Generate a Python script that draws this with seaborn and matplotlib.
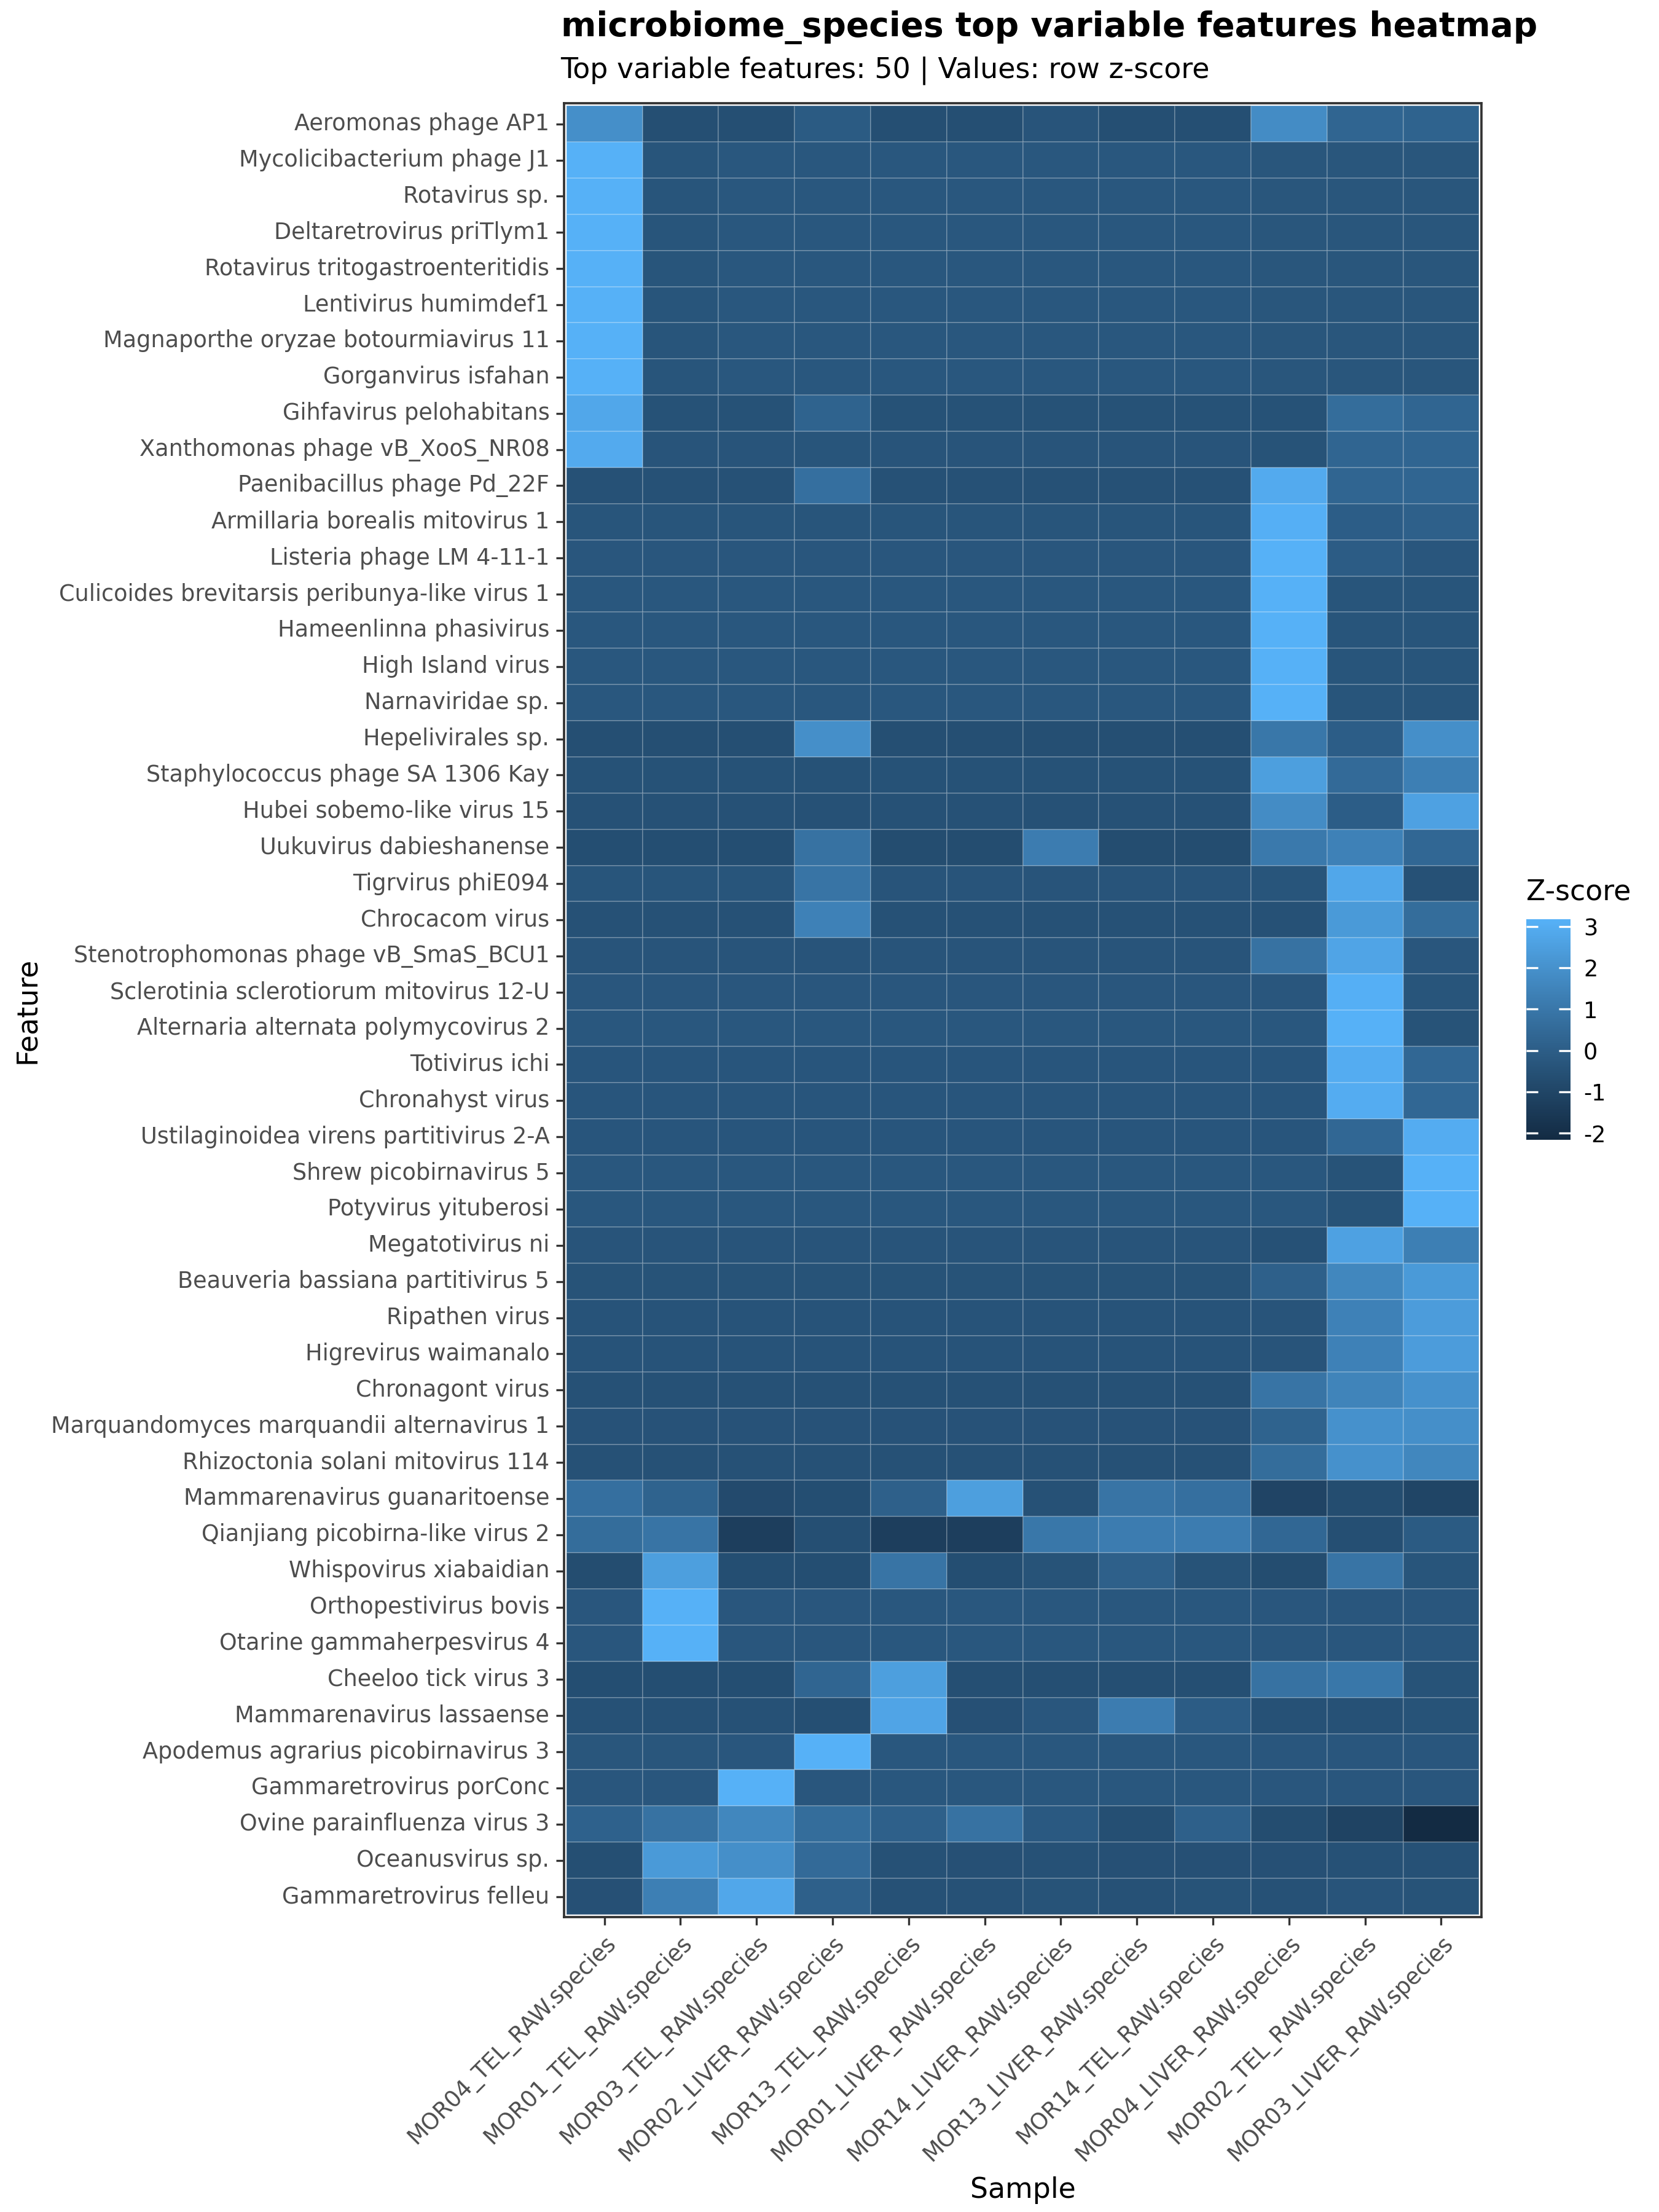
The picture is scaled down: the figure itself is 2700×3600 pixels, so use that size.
import numpy as np
import pandas as pd
import matplotlib
matplotlib.use("Agg")
import matplotlib.pyplot as plt
import seaborn as sns
from matplotlib.colors import ListedColormap

features = [
    "Aeromonas phage AP1", "Mycolicibacterium phage J1", "Rotavirus sp.", "Deltaretrovirus priTlym1",
    "Rotavirus tritogastroenteritidis", "Lentivirus humimdef1", "Magnaporthe oryzae botourmiavirus 11",
    "Gorganvirus isfahan", "Gihfavirus pelohabitans", "Xanthomonas phage vB_XooS_NR08",
    "Paenibacillus phage Pd_22F", "Armillaria borealis mitovirus 1", "Listeria phage LM 4-11-1",
    "Culicoides brevitarsis peribunya-like virus 1", "Hameenlinna phasivirus", "High Island virus",
    "Narnaviridae sp.", "Hepelivirales sp.", "Staphylococcus phage SA 1306 Kay",
    "Hubei sobemo-like virus 15", "Uukuvirus dabieshanense", "Tigrvirus phiE094", "Chrocacom virus",
    "Stenotrophomonas phage vB_SmaS_BCU1", "Sclerotinia sclerotiorum mitovirus 12-U",
    "Alternaria alternata polymycovirus 2", "Totivirus ichi", "Chronahyst virus",
    "Ustilaginoidea virens partitivirus 2-A", "Shrew picobirnavirus 5", "Potyvirus yituberosi",
    "Megatotivirus ni", "Beauveria bassiana partitivirus 5", "Ripathen virus", "Higrevirus waimanalo",
    "Chronagont virus", "Marquandomyces marquandii alternavirus 1", "Rhizoctonia solani mitovirus 114",
    "Mammarenavirus guanaritoense", "Qianjiang picobirna-like virus 2", "Whispovirus xiabaidian",
    "Orthopestivirus bovis", "Otarine gammaherpesvirus 4", "Cheeloo tick virus 3",
    "Mammarenavirus lassaense", "Apodemus agrarius picobirnavirus 3", "Gammaretrovirus porConc",
    "Ovine parainfluenza virus 3", "Oceanusvirus sp.", "Gammaretrovirus felleu",
]

samples = [
    "MOR04_TEL_RAW.species", "MOR01_TEL_RAW.species", "MOR03_TEL_RAW.species",
    "MOR02_LIVER_RAW.species", "MOR13_TEL_RAW.species", "MOR01_LIVER_RAW.species",
    "MOR14_LIVER_RAW.species", "MOR13_LIVER_RAW.species", "MOR14_TEL_RAW.species",
    "MOR04_LIVER_RAW.species", "MOR02_TEL_RAW.species", "MOR03_LIVER_RAW.species",
]

# row z-scores per sample (rows in feature order)
z_MOR04_TEL = [1.9, 3.17, 3.17, 3.17, 3.17, 3.17, 3.17, 3.17, 2.8, 2.9,
               -0.5, -0.35, -0.3, -0.27, -0.27, -0.27, -0.27, -0.6, -0.48, -0.5,
               -0.65, -0.35, -0.5, -0.4, -0.3, -0.25, -0.33, -0.33, -0.33, -0.25,
               -0.25, -0.38, -0.45, -0.42, -0.42, -0.5, -0.46, -0.5, 0.7, 0.6,
               -0.7, -0.3, -0.3, -0.65, -0.5, -0.32, -0.3, 0.15, -0.6, -0.55]
z_MOR01_TEL = [-0.6, -0.35, -0.35, -0.35, -0.35, -0.35, -0.35, -0.35, -0.48, -0.39,
               -0.5, -0.35, -0.3, -0.27, -0.27, -0.27, -0.27, -0.6, -0.48, -0.5,
               -0.65, -0.35, -0.5, -0.4, -0.3, -0.25, -0.33, -0.33, -0.33, -0.25,
               -0.25, -0.38, -0.45, -0.42, -0.42, -0.5, -0.46, -0.5, 0.2, 0.9,
               2.5, 3.17, 3.17, -0.65, -0.5, -0.32, -0.3, 0.8, 2.3, 1.3]
z_MOR03_TEL = [-0.6, -0.27, -0.27, -0.27, -0.27, -0.27, -0.27, -0.27, -0.48, -0.39,
               -0.5, -0.35, -0.3, -0.27, -0.27, -0.27, -0.27, -0.6, -0.48, -0.5,
               -0.65, -0.35, -0.5, -0.4, -0.3, -0.25, -0.33, -0.33, -0.33, -0.25,
               -0.25, -0.38, -0.45, -0.42, -0.42, -0.5, -0.46, -0.5, -0.8, -1.3,
               -0.65, -0.3, -0.3, -0.65, -0.5, -0.3, 3.17, 1.6, 1.9, 2.8]
z_MOR02_LIVER = [-0.1, -0.27, -0.27, -0.27, -0.27, -0.27, -0.27, -0.27, 0.2, -0.35,
                 0.7, -0.35, -0.3, -0.27, -0.27, -0.27, -0.27, 1.9, -0.48, -0.5,
                 0.8, 0.9, 1.4, -0.4, -0.3, -0.25, -0.33, -0.33, -0.33, -0.25,
                 -0.25, -0.38, -0.45, -0.42, -0.42, -0.5, -0.46, -0.5, -0.65, -0.6,
                 -0.65, -0.3, -0.3, 0.3, -0.6, 3.17, -0.3, 0.6, 0.5, 0.1]
z_MOR13_TEL = [-0.6, -0.27, -0.27, -0.27, -0.27, -0.27, -0.27, -0.27, -0.48, -0.39,
               -0.5, -0.35, -0.3, -0.27, -0.27, -0.27, -0.27, -0.6, -0.48, -0.5,
               -0.7, -0.38, -0.5, -0.4, -0.3, -0.25, -0.33, -0.33, -0.33, -0.25,
               -0.25, -0.38, -0.45, -0.42, -0.42, -0.5, -0.46, -0.5, 0.1, -1.3,
               0.9, -0.28, -0.28, 2.5, 2.7, -0.27, -0.27, 0.1, -0.5, -0.5]
z_MOR01_LIVER = [-0.6, -0.27, -0.27, -0.27, -0.27, -0.27, -0.27, -0.27, -0.48, -0.39,
                 -0.5, -0.35, -0.3, -0.27, -0.27, -0.27, -0.27, -0.6, -0.48, -0.5,
                 -0.7, -0.38, -0.5, -0.4, -0.3, -0.25, -0.33, -0.33, -0.33, -0.25,
                 -0.25, -0.38, -0.45, -0.42, -0.42, -0.5, -0.46, -0.5, 2.5, -1.3,
                 -0.65, -0.28, -0.28, -0.6, -0.55, -0.27, -0.27, 0.8, -0.55, -0.5]
z_MOR14_LIVER = [-0.4, -0.27, -0.27, -0.27, -0.27, -0.27, -0.27, -0.27, -0.48, -0.39,
                 -0.5, -0.35, -0.3, -0.27, -0.27, -0.27, -0.27, -0.6, -0.48, -0.5,
                 1.2, -0.38, -0.5, -0.4, -0.3, -0.25, -0.33, -0.33, -0.33, -0.25,
                 -0.25, -0.38, -0.45, -0.42, -0.42, -0.5, -0.46, -0.5, -0.5, 1.0,
                 -0.45, -0.28, -0.28, -0.6, -0.3, -0.27, -0.27, -0.2, -0.5, -0.45]
z_MOR13_LIVER = [-0.6, -0.27, -0.27, -0.27, -0.27, -0.27, -0.27, -0.27, -0.48, -0.39,
                 -0.5, -0.35, -0.3, -0.27, -0.27, -0.27, -0.27, -0.6, -0.48, -0.5,
                 -0.7, -0.38, -0.5, -0.4, -0.3, -0.25, -0.33, -0.33, -0.33, -0.25,
                 -0.25, -0.38, -0.45, -0.42, -0.42, -0.5, -0.46, -0.5, 0.9, 1.2,
                 0.1, -0.28, -0.28, -0.6, 1.2, -0.27, -0.27, -0.6, -0.55, -0.5]
z_MOR14_TEL = [-0.6, -0.27, -0.27, -0.27, -0.27, -0.27, -0.27, -0.27, -0.48, -0.39,
               -0.5, -0.35, -0.3, -0.27, -0.27, -0.27, -0.27, -0.6, -0.48, -0.5,
               -0.7, -0.38, -0.5, -0.4, -0.3, -0.25, -0.33, -0.33, -0.33, -0.25,
               -0.25, -0.38, -0.45, -0.42, -0.42, -0.5, -0.46, -0.5, 0.7, 1.2,
               -0.45, -0.28, -0.28, -0.6, -0.05, -0.27, -0.27, 0.1, -0.55, -0.45]
z_MOR04_LIVER = [1.8, -0.32, -0.32, -0.32, -0.32, -0.32, -0.32, -0.32, -0.48, -0.45,
                 2.9, 3.1, 3.17, 3.17, 3.17, 3.17, 3.17, 1.0, 2.5, 1.8,
                 1.1, -0.35, -0.5, 0.8, -0.3, -0.25, -0.33, -0.33, -0.33, -0.25,
                 -0.25, -0.5, 0.1, -0.4, -0.4, 0.9, 0.2, 0.6, -1.05, 0.4,
                 -0.7, -0.3, -0.3, 0.8, -0.5, -0.3, -0.3, -0.7, -0.55, -0.5]
z_MOR02_TEL = [0.3, -0.32, -0.32, -0.32, -0.32, -0.32, -0.32, -0.32, 0.6, 0.3,
               0.3, 0.0, -0.05, -0.35, -0.35, -0.35, -0.35, 0.0, 0.5, 0.0,
               1.4, 2.8, 2.3, 2.7, 3.1, 3.17, 3.0, 3.0, 0.4, -0.45,
               -0.45, 2.6, 1.6, 1.4, 1.4, 1.5, 2.0, 2.0, -0.7, -0.6,
               0.9, -0.3, -0.3, 1.0, -0.5, -0.3, -0.3, -1.1, -0.5, -0.4]
z_MOR03_LIVER = [0.2, -0.32, -0.32, -0.32, -0.32, -0.32, -0.32, -0.32, 0.3, 0.3,
                 0.3, 0.1, -0.3, -0.35, -0.35, -0.35, -0.35, 1.9, 1.3, 2.6,
                 0.4, -0.5, 0.6, -0.3, -0.35, -0.45, 0.4, 0.4, 3.0, 3.17,
                 3.17, 1.3, 2.3, 2.4, 2.4, 2.0, 1.9, 1.6, -1.0, -0.1,
                 -0.35, -0.3, -0.3, -0.45, -0.45, -0.3, -0.3, -2.16, -0.5, -0.45]

columns = [z_MOR04_TEL, z_MOR01_TEL, z_MOR03_TEL, z_MOR02_LIVER, z_MOR13_TEL, z_MOR01_LIVER,
           z_MOR14_LIVER, z_MOR13_LIVER, z_MOR14_TEL, z_MOR04_LIVER, z_MOR02_TEL, z_MOR03_LIVER]
df = pd.DataFrame({s: c for s, c in zip(samples, columns)}, index=features)

# ggplot2-like gradient (#132B43 -> #56B1F7) interpolated in CIELAB
M = np.array([[0.4124564, 0.3575761, 0.1804375],
              [0.2126729, 0.7151522, 0.0721750],
              [0.0193339, 0.1191920, 0.9503041]])
WHITE = np.array([0.95047, 1.0, 1.08883])

def hex2rgb(h):
    h = h.lstrip('#')
    return np.array([int(h[i:i + 2], 16) / 255 for i in (0, 2, 4)])

def rgb2lab(c):
    lin = np.where(c <= 0.04045, c / 12.92, ((c + 0.055) / 1.055) ** 2.4)
    xyz = M @ lin / WHITE
    f = np.where(xyz > (6 / 29) ** 3, np.cbrt(xyz), xyz / (3 * (6 / 29) ** 2) + 4 / 29)
    return np.array([116 * f[1] - 16, 500 * (f[0] - f[1]), 200 * (f[1] - f[2])])

def lab2rgb(lab):
    L, a, b = lab
    fy = (L + 16) / 116
    fx = fy + a / 500
    fz = fy - b / 200
    f = np.array([fx, fy, fz])
    xyz = np.where(f > 6 / 29, f ** 3, 3 * (6 / 29) ** 2 * (f - 4 / 29)) * WHITE
    lin = np.linalg.solve(M, xyz)
    c = np.where(lin <= 0.0031308, 12.92 * lin, 1.055 * np.clip(lin, 0, None) ** (1 / 2.4) - 0.055)
    return np.clip(c, 0, 1)

lab_lo = rgb2lab(hex2rgb("#132B43"))
lab_hi = rgb2lab(hex2rgb("#56B1F7"))
cmap = ListedColormap([lab2rgb(lab_lo + t * (lab_hi - lab_lo)) for t in np.linspace(0, 1, 256)])

plt.rcParams['font.family'] = ['DejaVu Sans']
plt.rcParams['axes.unicode_minus'] = False

fig = plt.figure(figsize=(9, 12), dpi=300)
ax = fig.add_axes([0.340, 0.1333, 0.553, 0.820])
cax = fig.add_axes([0.920, 0.4847, 0.0267, 0.0997])

vmin = float(df.values.min())
vmax = float(df.values.max())
sns.heatmap(df, ax=ax, cbar_ax=cax, cmap=cmap, vmin=vmin, vmax=vmax,
            linewidths=0.4, linecolor=(1, 1, 1, 0.2),
            xticklabels=True, yticklabels=True)

ax.set_xlim(-0.03, len(samples) + 0.03)
ax.set_ylim(len(features) + 0.07, -0.07)
for sp in ax.spines.values():
    sp.set_visible(True)
    sp.set_color('#333333')
    sp.set_linewidth(0.9)

ax.set_xticks(np.arange(len(samples)) + 0.5)
ax.set_xticklabels(samples, rotation=45, ha='right', rotation_mode='anchor',
                   fontsize=8.8, color='#4d4d4d')
ax.set_yticks(np.arange(len(features)) + 0.5)
ax.set_yticklabels(features, rotation=0, fontsize=8.8, color='#4d4d4d')
ax.tick_params(axis='both', length=3.2, width=0.8, color='#333333', pad=2.5)
ax.set_xlabel("Sample", fontsize=11, color='black', labelpad=4)
ax.set_ylabel("Feature", fontsize=11, color='black', labelpad=4)

cbar = ax.collections[0].colorbar
cbar.outline.set_visible(False)
cbar.set_ticks([-2, -1, 0, 1, 2, 3])
cbar.set_ticklabels(["-2", "-1", "0", "1", "2", "3"])
cbar.ax.tick_params(axis='y', which='both', direction='in', length=4.5, width=0.8,
                    color='white', left=True, right=True, labelleft=False,
                    labelright=True, labelsize=8.8, pad=5)
for t in cbar.ax.get_yticklabels():
    t.set_color('black')

fig.text(0.920, 0.5967, "Z-score", fontsize=11, va='center', ha='left')
fig.text(0.338, 0.9875, "microbiome_species top variable features heatmap",
         fontsize=13.2, fontweight='bold', va='center', ha='left')
fig.text(0.338, 0.968, "Top variable features: 50 | Values: row z-score",
         fontsize=11, va='center', ha='left')

fig.savefig("out.png", dpi=300, facecolor='white')
